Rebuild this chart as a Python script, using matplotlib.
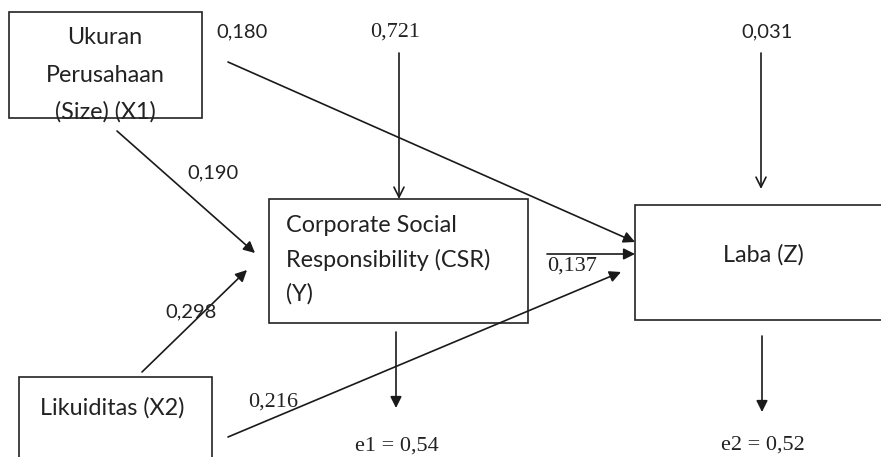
import matplotlib
matplotlib.use("Agg")
import matplotlib.pyplot as plt
from matplotlib.patches import Rectangle, FancyArrowPatch

# ---- data ----
node_names = ["X1", "Y", "X2", "Z"]
node_labels = ["Ukuran\nPerusahaan\n(Size) (X1)",
               "Corporate Social\nResponsibility (CSR)\n(Y)",
               "Likuiditas (X2)",
               "Laba (Z)"]
path_labels = ["0,180", "0,190", "0,298", "0,137", "0,216"]   # X1->Z, X1->Y, X2->Y, Y->Z, X2->Z
disturb_labels = ["0,721", "0,031"]                           # into Y, into Z
error_labels = ["e1 = 0,54", "e2 = 0,52"]

# ---- layout (pixel coordinates, y down) ----
W, H = 881, 457
boxes = {"X1": (9, 12, 202, 118), "Y": (269, 199, 528, 323),
         "X2": (19, 377, 212, 470), "Z": (635, 205, 900, 320)}
text_pos = {"X1": (105, 75, "center", 37), "Y": (286, 260, "left", 34),
            "X2": (112, 408, "center", 30), "Z": (763, 255, "center", 30)}
path_geom = [((228, 62), (635, 242)), ((117, 131), (255, 253)),
             ((142, 372), (247, 270)), ((547, 254), (635, 254)),
             ((228, 437), (621, 272))]
path_lab_pos = [(242, 32, "center", "sans"), (213, 173, "center", "sans"),
                (191, 312, "center", "sans"), (547, 266, "left", "serif"),
                (273, 402, "center", "serif")]
dist_geom = [((399, 53), (399, 199)), ((761, 53), (761, 189))]
dist_lab_pos = [(395, 32, "serif"), (767, 32, "sans")]
err_geom = [((396, 332), (396, 408)), ((762, 336), (762, 412))]
err_lab_pos = [(397, 446), (763, 445)]

TXT = "#222222"
LINE = "#1a1a1a"
SANS = ["Lato", "DejaVu Sans"]
SERIF = ["Liberation Serif", "DejaVu Serif"]
FS_BOX = 16.8
FS_SANS = 14.5
FS_SERIF = 16

fig = plt.figure(figsize=(W / 100, H / 100), dpi=100)
ax = fig.add_axes([0, 0, 1, 1])
ax.set_xlim(0, W)
ax.set_ylim(H, 0)
ax.axis("off")

for name, label in zip(node_names, node_labels):
    x0, y0, x1, y1 = boxes[name]
    rect = Rectangle((x0, y0), x1 - x0, y1 - y0, facecolor="white",
                     edgecolor="#222222", linewidth=1.2, zorder=2)
    ax.add_patch(rect)
    tx, ty, ha, lsp = text_pos[name]
    lines = label.split("\n")
    n = len(lines)
    for i, ln in enumerate(lines):
        yy = ty + (i - (n - 1) / 2) * lsp
        t = ax.text(tx, yy, ln, ha=ha, va="center", fontsize=FS_BOX,
                    family=SANS, color=TXT, zorder=3)
        t.set_clip_path(rect)

def arrow(p0, p1, style="-|>", ms=17):
    a = FancyArrowPatch(p0, p1, arrowstyle=style, mutation_scale=ms,
                        color=LINE, linewidth=1.2, shrinkA=0, shrinkB=0,
                        zorder=4)
    ax.add_patch(a)

def fam_props(fam):
    return (SANS, FS_SANS) if fam == "sans" else (SERIF, FS_SERIF)

for (p0, p1), lab, (lx, ly, ha, fam) in zip(path_geom, path_labels, path_lab_pos):
    arrow(p0, p1)
    f, s = fam_props(fam)
    ax.text(lx, ly, lab, ha=ha, va="center", fontsize=s, family=f, color=TXT, zorder=5)

for (p0, p1), lab, (lx, ly, fam) in zip(dist_geom, disturb_labels, dist_lab_pos):
    arrow(p0, p1, style="->", ms=18)
    f, s = fam_props(fam)
    ax.text(lx, ly, lab, ha="center", va="center", fontsize=s, family=f, color=TXT, zorder=5)

for (p0, p1), lab, (lx, ly) in zip(err_geom, error_labels, err_lab_pos):
    arrow(p0, p1)
    ax.text(lx, ly, lab, ha="center", va="center", fontsize=FS_SERIF,
            family=SERIF, color=TXT, zorder=5)

fig.savefig("out.png", dpi=100, facecolor="white")
